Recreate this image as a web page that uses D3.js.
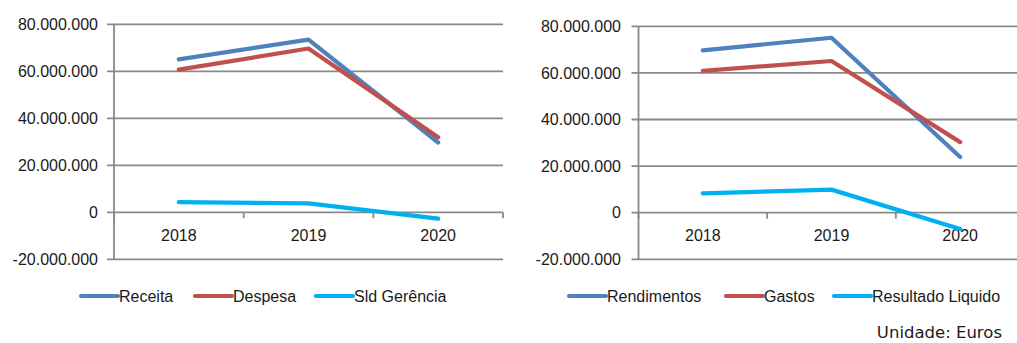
<!DOCTYPE html>
<html>
<head>
<meta charset="utf-8">
<script src="https://cdn.jsdelivr.net/npm/d3@7"></script>
<style>
  html, body { margin: 0; padding: 0; background: #fff; }
  svg { display: block; }
  text { font-family: "Liberation Sans", Arial, sans-serif; fill: #1a1a1a; }
</style>
</head>
<body>
<svg id="chart" width="1017" height="343"></svg>
<script>
// ---- data ----
const years = ["2018", "2019", "2020"];
const yTicks = [-20000000, 0, 20000000, 40000000, 60000000, 80000000];

const leftSeriesNames = ["Receita", "Despesa", "Sld Gerência"];
const receita = [65100000, 73500000, 29700000];
const despesa = [60700000, 69700000, 31900000];
const sldGerencia = [4300000, 3800000, -2700000];

const rightSeriesNames = ["Rendimentos", "Gastos", "Resultado Liquido"];
const rendimentos = [69700000, 75100000, 23900000];
const gastos = [60900000, 65100000, 30300000];
const resultadoLiquido = [8300000, 9900000, -7000000];

const colors = ["#4F81BD", "#C0504D", "#00B0F0"];
const unitLabel = "Unidade: Euros";

// ---- drawing ----
const svg = d3.select("#chart");
const fmt = d3.formatLocale({decimal: ",", thousands: ".", grouping: [3], currency: ["", ""], minus: "-"}).format(",.0f");

function panel(cfg) {
  const g = svg.append("g");
  const y = d3.scaleLinear().domain([-20000000, 80000000]).range([cfg.yBottom, cfg.yTop]);
  const x = d3.scaleBand().domain(years).range([cfg.x0, cfg.x1]).paddingInner(0).paddingOuter(0);
  const grid = "#898989";

  // gridlines
  g.selectAll("line.grid").data(yTicks).join("line")
    .attr("x1", cfg.x0 - 7).attr("x2", cfg.x1)
    .attr("y1", d => y(d)).attr("y2", d => y(d))
    .attr("stroke", grid).attr("stroke-width", 1.8);

  // y axis line
  g.append("line").attr("x1", cfg.x0).attr("x2", cfg.x0)
    .attr("y1", y(80000000)).attr("y2", y(-20000000))
    .attr("stroke", grid).attr("stroke-width", 1.8);

  // x-axis tick marks at category boundaries
  const bounds = years.map(d => x(d)).concat([cfg.x1]);
  g.selectAll("line.xt").data(bounds).join("line")
    .attr("x1", d => d).attr("x2", d => d)
    .attr("y1", y(0)).attr("y2", y(0) + 6)
    .attr("stroke", grid).attr("stroke-width", 1.8);

  // y labels
  g.selectAll("text.yl").data(yTicks).join("text")
    .attr("x", cfg.labelRight).attr("y", d => y(d)).attr("dy", "0.36em")
    .attr("text-anchor", "end").style("font-size", "16px")
    .text(d => fmt(d));

  // x labels
  g.selectAll("text.xl").data(years).join("text")
    .attr("x", d => x(d) + x.bandwidth() / 2).attr("y", y(0) + 28.5)
    .attr("text-anchor", "middle").style("font-size", "16px")
    .text(d => d);

  // lines
  const line = d3.line().x((d, i) => x(years[i]) + x.bandwidth() / 2).y(d => y(d));
  cfg.series.forEach((s, i) => {
    g.append("path").datum(s)
      .attr("d", line).attr("fill", "none")
      .attr("stroke", colors[i]).attr("stroke-width", 4.2)
      .attr("stroke-linejoin", "round").attr("stroke-linecap", "round");
  });

  // legend
  const lg = g.append("g");
  cfg.legendX.forEach((lx, i) => {
    lg.append("line").attr("x1", lx).attr("x2", lx + 37)
      .attr("y1", 296).attr("y2", 296)
      .attr("stroke", colors[i]).attr("stroke-width", 4.2).attr("stroke-linecap", "round");
    lg.append("text").attr("x", lx + 38).attr("y", 296).attr("dy", "0.36em")
      .style("font-size", "16px").text(cfg.names[i]);
  });
}

panel({
  x0: 114, x1: 503, yTop: 24.3, yBottom: 259.3, labelRight: 98,
  series: [receita, despesa, sldGerencia], names: leftSeriesNames,
  legendX: [81, 195, 316]
});

panel({
  x0: 638.5, x1: 1024.5, yTop: 26.3, yBottom: 259.3, labelRight: 621,
  series: [rendimentos, gastos, resultadoLiquido], names: rightSeriesNames,
  legendX: [569, 726, 834]
});

svg.append("text").attr("x", 1002).attr("y", 338)
  .attr("text-anchor", "end")
  .style("font-family", "'DejaVu Sans', sans-serif").style("font-size", "16.5px")
  .text(unitLabel);
</script>
</body>
</html>
